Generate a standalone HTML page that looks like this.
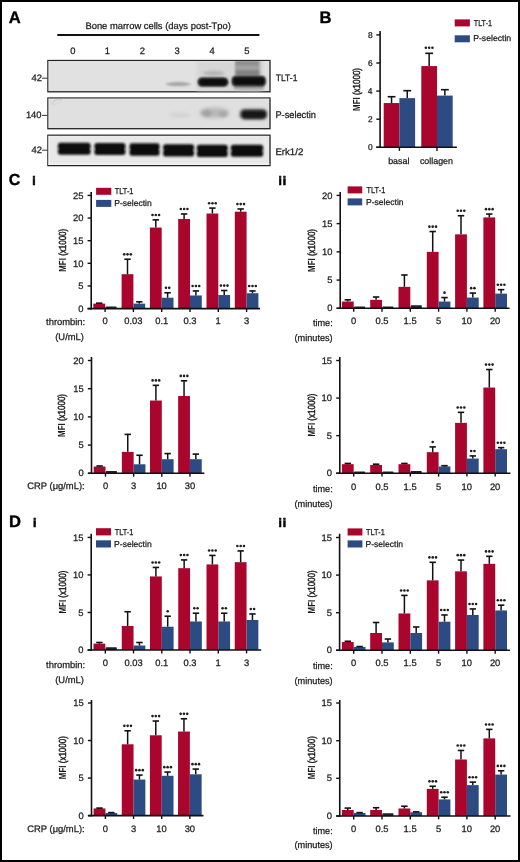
<!DOCTYPE html>
<html><head><meta charset="utf-8"><style>
html,body{margin:0;padding:0;background:#fff;}
svg{display:block;}
text{font-family:"Liberation Sans",sans-serif;}
svg{-webkit-font-smoothing:antialiased;will-change:transform;text-rendering:geometricPrecision;}
</style></head><body>
<svg width="520" height="862" viewBox="0 0 520 862" font-family="Liberation Sans, sans-serif">
<defs>
<filter id="b1" x="-30%" y="-60%" width="160%" height="220%"><feGaussianBlur stdDeviation="1.6"/></filter>
<filter id="b2" x="-30%" y="-60%" width="160%" height="220%"><feGaussianBlur stdDeviation="1.0"/></filter>
<filter id="b4" x="-30%" y="-60%" width="160%" height="220%"><feGaussianBlur stdDeviation="1.3"/></filter>
<filter id="b3" x="-30%" y="-60%" width="160%" height="220%"><feGaussianBlur stdDeviation="2.2"/></filter>
<clipPath id="k1"><rect x="48.3" y="61" width="221.2" height="30.6"/></clipPath>
<clipPath id="k2"><rect x="48.3" y="98.3" width="221.2" height="30.4"/></clipPath>
<clipPath id="k3"><rect x="48.3" y="135.4" width="221.2" height="30.3"/></clipPath>
</defs>
<rect x="0" y="0" width="520" height="862" fill="#fff"/>
<line x1="57.3" y1="35" x2="259.4" y2="35" stroke="#111" stroke-width="1.9"/>
<rect x="47.9" y="60.5" width="222.1" height="31.3" fill="#e1e1e1" stroke="#222" stroke-width="1.3"/>
<rect x="47.9" y="98.0" width="222.1" height="30.7" fill="#e0e0e0" stroke="#222" stroke-width="1.3"/>
<rect x="47.9" y="135.2" width="222.1" height="30.4" fill="#e8e8e8" stroke="#222" stroke-width="1.3"/>
<rect x="48.55" y="61.15" width="220.8" height="0.8" fill="#f0f0f0" opacity="0.8"/>
<rect x="48.55" y="61.15" width="0.8" height="30.00" fill="#f0f0f0" opacity="0.8"/>
<rect x="48.55" y="98.65" width="220.8" height="0.8" fill="#f0f0f0" opacity="0.8"/>
<rect x="48.55" y="98.65" width="0.8" height="29.40" fill="#f0f0f0" opacity="0.8"/>
<rect x="48.55" y="135.85" width="220.8" height="0.8" fill="#f0f0f0" opacity="0.8"/>
<rect x="48.55" y="135.85" width="0.8" height="29.10" fill="#f0f0f0" opacity="0.8"/>
<path d="M51.5,104.5 C52,100.5 57,99.2 62.5,100.2" fill="none" stroke="#c2c2c2" stroke-width="0.8"/>
<path d="M53,105.5 C56,103 59,103.5 61.5,101.5" fill="none" stroke="#cccccc" stroke-width="0.6"/>
<rect x="48.6" y="163.6" width="220.8" height="1.2" fill="#f6f6f6"/>
<rect x="48.6" y="135.9" width="0.9" height="29" fill="#f4f4f4"/>
<g clip-path="url(#k1)">
<rect x="197" y="61" width="42" height="31" fill="#d6d6d6" filter="url(#b3)"/>
<rect x="238" y="58" width="24" height="36" fill="#c8c8c8" filter="url(#b3)"/>
<ellipse cx="178.3" cy="84.1" rx="12.5" ry="2.0" fill="#a4a4a4" filter="url(#b2)"/>
<ellipse cx="213.5" cy="73.2" rx="11" ry="2.2" fill="#b0b0b0" filter="url(#b1)"/>
<rect x="235" y="60.5" width="24.5" height="16" fill="#a2a2a2" filter="url(#b4)"/>
<rect x="236" y="61.3" width="22.5" height="4" fill="#8e8e8e" filter="url(#b2)"/>
<rect x="236" y="70.3" width="23" height="5.2" fill="#808080" filter="url(#b2)"/>
<rect x="234" y="84.8" width="30" height="4.6" fill="#a2a2a2" filter="url(#b2)"/>
<rect x="197.6" y="77.4" width="30.6" height="9.2" rx="4.4" fill="#555" filter="url(#b4)"/>
<rect x="198.6" y="78.2" width="29" height="7.8" rx="3.9" fill="#0c0c0c" filter="url(#b2)"/>
<rect x="231.6" y="76.0" width="34.2" height="10.2" rx="4.0" fill="#555" filter="url(#b4)"/>
<rect x="232.6" y="76.8" width="32.4" height="8.6" rx="3.6" fill="#111" filter="url(#b2)"/>
</g>
<g clip-path="url(#k2)">
<ellipse cx="179.5" cy="115" rx="11" ry="3" fill="#d4d4d4" filter="url(#b1)"/>
<ellipse cx="214.3" cy="112.8" rx="15" ry="5.2" fill="#b8b8b8" filter="url(#b3)"/>
<ellipse cx="207" cy="113.2" rx="5" ry="3.4" fill="#a2a2a2" filter="url(#b1)"/>
<ellipse cx="223" cy="114" rx="4.5" ry="3" fill="#a8a8a8" filter="url(#b1)"/>
<rect x="239.5" y="108.8" width="28" height="11" rx="5" fill="#6a6a6a" filter="url(#b1)"/>
<rect x="241.5" y="110.4" width="24.5" height="8" rx="3.8" fill="#161616" filter="url(#b4)"/>
</g>
<g clip-path="url(#k3)">
<rect x="57.9" y="142.8" width="32.7" height="11.9" rx="2.5" fill="#0f0f0f" filter="url(#b2)"/>
<line x1="63.7" y1="148.8" x2="84.8" y2="148.8" stroke="#2a2a2a" stroke-width="0.6" filter="url(#b2)"/>
<rect x="57.2" y="148.2" width="1.6" height="1.2" fill="#e6e6e6" filter="url(#b2)"/>
<rect x="89.7" y="148.2" width="1.6" height="1.2" fill="#e6e6e6" filter="url(#b2)"/>
<rect x="94.4" y="143.0" width="31.0" height="12.0" rx="2.5" fill="#0f0f0f" filter="url(#b2)"/>
<line x1="100.2" y1="149.0" x2="119.6" y2="149.0" stroke="#2a2a2a" stroke-width="0.6" filter="url(#b2)"/>
<rect x="93.7" y="148.4" width="1.6" height="1.2" fill="#e6e6e6" filter="url(#b2)"/>
<rect x="124.5" y="148.4" width="1.6" height="1.2" fill="#e6e6e6" filter="url(#b2)"/>
<rect x="129.5" y="143.3" width="30.1" height="12.5" rx="2.5" fill="#0f0f0f" filter="url(#b2)"/>
<line x1="135.3" y1="149.6" x2="153.8" y2="149.6" stroke="#2a2a2a" stroke-width="0.6" filter="url(#b2)"/>
<rect x="128.8" y="149.0" width="1.6" height="1.2" fill="#e6e6e6" filter="url(#b2)"/>
<rect x="158.7" y="149.0" width="1.6" height="1.2" fill="#e6e6e6" filter="url(#b2)"/>
<rect x="163.1" y="144.2" width="31.0" height="12.2" rx="2.5" fill="#0f0f0f" filter="url(#b2)"/>
<line x1="168.9" y1="150.3" x2="188.3" y2="150.3" stroke="#2a2a2a" stroke-width="0.6" filter="url(#b2)"/>
<rect x="162.4" y="149.7" width="1.6" height="1.2" fill="#e6e6e6" filter="url(#b2)"/>
<rect x="193.2" y="149.7" width="1.6" height="1.2" fill="#e6e6e6" filter="url(#b2)"/>
<rect x="196.8" y="144.8" width="31.0" height="12.3" rx="2.5" fill="#0f0f0f" filter="url(#b2)"/>
<line x1="202.6" y1="150.9" x2="222.0" y2="150.9" stroke="#2a2a2a" stroke-width="0.6" filter="url(#b2)"/>
<rect x="196.1" y="150.3" width="1.6" height="1.2" fill="#e6e6e6" filter="url(#b2)"/>
<rect x="226.9" y="150.3" width="1.6" height="1.2" fill="#e6e6e6" filter="url(#b2)"/>
<rect x="230.8" y="144.8" width="32.4" height="12.0" rx="2.5" fill="#0f0f0f" filter="url(#b2)"/>
<line x1="236.6" y1="150.8" x2="257.4" y2="150.8" stroke="#2a2a2a" stroke-width="0.6" filter="url(#b2)"/>
<rect x="230.1" y="150.2" width="1.6" height="1.2" fill="#e6e6e6" filter="url(#b2)"/>
<rect x="262.3" y="150.2" width="1.6" height="1.2" fill="#e6e6e6" filter="url(#b2)"/>
</g>
<text x="70.19" y="53.50" font-size="9.4" fill="#1a1a1a" stroke="#1a1a1a" stroke-width="0.25" >0</text>
<text x="104.86" y="53.50" font-size="9.4" fill="#1a1a1a" stroke="#1a1a1a" stroke-width="0.25" >1</text>
<text x="139.79" y="53.50" font-size="9.4" fill="#1a1a1a" stroke="#1a1a1a" stroke-width="0.25" >2</text>
<text x="174.61" y="53.50" font-size="9.4" fill="#1a1a1a" stroke="#1a1a1a" stroke-width="0.25" >3</text>
<text x="209.42" y="53.50" font-size="9.4" fill="#1a1a1a" stroke="#1a1a1a" stroke-width="0.25" >4</text>
<text x="244.20" y="53.50" font-size="9.4" fill="#1a1a1a" stroke="#1a1a1a" stroke-width="0.25" >5</text>
<text x="85.43" y="29.10" font-size="9.4" fill="#1a1a1a" stroke="#1a1a1a" stroke-width="0.25" >Bone marrow cells (days post-Tpo)</text>
<text x="31.52" y="81.30" font-size="9.4" fill="#1a1a1a" stroke="#1a1a1a" stroke-width="0.25" >42</text>
<line x1="42.00" y1="78.20" x2="47.30" y2="78.20" stroke="#333" stroke-width="1.0"/>
<text x="25.88" y="118.30" font-size="9.4" fill="#1a1a1a" stroke="#1a1a1a" stroke-width="0.25" >140</text>
<line x1="42.00" y1="115.40" x2="47.30" y2="115.40" stroke="#333" stroke-width="1.0"/>
<text x="31.52" y="153.40" font-size="9.4" fill="#1a1a1a" stroke="#1a1a1a" stroke-width="0.25" >42</text>
<line x1="42.00" y1="150.20" x2="47.30" y2="150.20" stroke="#333" stroke-width="1.0"/>
<text x="275.72" y="80.70" font-size="9.4" fill="#1a1a1a" stroke="#1a1a1a" stroke-width="0.25" textLength="21.68" lengthAdjust="spacingAndGlyphs" >TLT-1</text>
<text x="275.44" y="118.10" font-size="9.7" fill="#1a1a1a" stroke="#1a1a1a" stroke-width="0.25" textLength="40.56" lengthAdjust="spacingAndGlyphs" >P-selectin</text>
<text x="275.41" y="155.40" font-size="9.6" fill="#1a1a1a" stroke="#1a1a1a" stroke-width="0.25" textLength="27.88" lengthAdjust="spacingAndGlyphs" >Erk1/2</text>
<line x1="91.20" y1="192.10" x2="91.20" y2="309.40" stroke="#111" stroke-width="1.6"/>
<line x1="87.60" y1="308.60" x2="91.20" y2="308.60" stroke="#111" stroke-width="1.4"/>
<text x="78.24" y="311.78" font-size="9.4" fill="#1a1a1a" stroke="#1a1a1a" stroke-width="0.25" >0</text>
<line x1="87.60" y1="285.96" x2="91.20" y2="285.96" stroke="#111" stroke-width="1.4"/>
<text x="78.27" y="289.09" font-size="9.4" fill="#1a1a1a" stroke="#1a1a1a" stroke-width="0.25" >5</text>
<line x1="87.60" y1="263.32" x2="91.20" y2="263.32" stroke="#111" stroke-width="1.4"/>
<text x="73.01" y="266.50" font-size="9.4" fill="#1a1a1a" stroke="#1a1a1a" stroke-width="0.25" >10</text>
<line x1="87.60" y1="240.68" x2="91.20" y2="240.68" stroke="#111" stroke-width="1.4"/>
<text x="73.04" y="243.81" font-size="9.4" fill="#1a1a1a" stroke="#1a1a1a" stroke-width="0.25" >15</text>
<line x1="87.60" y1="218.04" x2="91.20" y2="218.04" stroke="#111" stroke-width="1.4"/>
<text x="73.01" y="221.22" font-size="9.4" fill="#1a1a1a" stroke="#1a1a1a" stroke-width="0.25" >20</text>
<line x1="87.60" y1="195.40" x2="91.20" y2="195.40" stroke="#111" stroke-width="1.4"/>
<text x="73.04" y="198.58" font-size="9.4" fill="#1a1a1a" stroke="#1a1a1a" stroke-width="0.25" >25</text>
<rect x="93.30" y="303.62" width="11.80" height="4.98" fill="#a9052d" />
<line x1="99.20" y1="303.62" x2="99.20" y2="303.17" stroke="#111" stroke-width="1.5"/>
<line x1="96.00" y1="303.17" x2="102.40" y2="303.17" stroke="#111" stroke-width="1.6"/>
<rect x="105.40" y="306.42" width="11.20" height="2.18" fill="#1c1f2e" rx="0.8"/>
<line x1="105.10" y1="308.60" x2="105.10" y2="312.00" stroke="#111" stroke-width="1.4"/>
<text x="102.49" y="324.20" font-size="9.4" fill="#1a1a1a" stroke="#1a1a1a" stroke-width="0.25" >0</text>
<rect x="121.60" y="274.19" width="11.80" height="34.41" fill="#a9052d" />
<line x1="127.50" y1="274.19" x2="127.50" y2="259.24" stroke="#111" stroke-width="1.5"/>
<line x1="124.30" y1="259.24" x2="130.70" y2="259.24" stroke="#111" stroke-width="1.6"/>
<circle cx="124.20" cy="254.34" r="1.3" fill="#1e1e1e"/>
<circle cx="127.50" cy="254.34" r="1.3" fill="#1e1e1e"/>
<circle cx="130.80" cy="254.34" r="1.3" fill="#1e1e1e"/>
<rect x="133.40" y="303.62" width="11.80" height="4.98" fill="#2d4b83" />
<line x1="139.30" y1="303.62" x2="139.30" y2="301.81" stroke="#111" stroke-width="1.5"/>
<line x1="136.10" y1="301.81" x2="142.50" y2="301.81" stroke="#111" stroke-width="1.6"/>
<line x1="133.40" y1="308.60" x2="133.40" y2="312.00" stroke="#111" stroke-width="1.4"/>
<text x="124.28" y="324.20" font-size="9.4" fill="#1a1a1a" stroke="#1a1a1a" stroke-width="0.25" >0.03</text>
<rect x="149.90" y="227.55" width="11.80" height="81.05" fill="#a9052d" />
<line x1="155.80" y1="227.55" x2="155.80" y2="219.85" stroke="#111" stroke-width="1.5"/>
<line x1="152.60" y1="219.85" x2="159.00" y2="219.85" stroke="#111" stroke-width="1.6"/>
<circle cx="152.50" cy="214.95" r="1.3" fill="#1e1e1e"/>
<circle cx="155.80" cy="214.95" r="1.3" fill="#1e1e1e"/>
<circle cx="159.10" cy="214.95" r="1.3" fill="#1e1e1e"/>
<rect x="161.70" y="297.73" width="11.80" height="10.87" fill="#2d4b83" />
<line x1="167.60" y1="297.73" x2="167.60" y2="292.75" stroke="#111" stroke-width="1.5"/>
<line x1="164.40" y1="292.75" x2="170.80" y2="292.75" stroke="#111" stroke-width="1.6"/>
<circle cx="165.95" cy="287.85" r="1.3" fill="#1e1e1e"/>
<circle cx="169.25" cy="287.85" r="1.3" fill="#1e1e1e"/>
<line x1="161.70" y1="308.60" x2="161.70" y2="312.00" stroke="#111" stroke-width="1.4"/>
<text x="155.21" y="324.20" font-size="9.4" fill="#1a1a1a" stroke="#1a1a1a" stroke-width="0.25" >0.1</text>
<rect x="178.20" y="218.95" width="11.80" height="89.65" fill="#a9052d" />
<line x1="184.10" y1="218.95" x2="184.10" y2="213.96" stroke="#111" stroke-width="1.5"/>
<line x1="180.90" y1="213.96" x2="187.30" y2="213.96" stroke="#111" stroke-width="1.6"/>
<circle cx="180.80" cy="209.06" r="1.3" fill="#1e1e1e"/>
<circle cx="184.10" cy="209.06" r="1.3" fill="#1e1e1e"/>
<circle cx="187.40" cy="209.06" r="1.3" fill="#1e1e1e"/>
<rect x="190.00" y="295.47" width="11.80" height="13.13" fill="#2d4b83" />
<line x1="195.90" y1="295.47" x2="195.90" y2="290.94" stroke="#111" stroke-width="1.5"/>
<line x1="192.70" y1="290.94" x2="199.10" y2="290.94" stroke="#111" stroke-width="1.6"/>
<circle cx="192.60" cy="286.04" r="1.3" fill="#1e1e1e"/>
<circle cx="195.90" cy="286.04" r="1.3" fill="#1e1e1e"/>
<circle cx="199.20" cy="286.04" r="1.3" fill="#1e1e1e"/>
<line x1="190.00" y1="308.60" x2="190.00" y2="312.00" stroke="#111" stroke-width="1.4"/>
<text x="183.49" y="324.20" font-size="9.4" fill="#1a1a1a" stroke="#1a1a1a" stroke-width="0.25" >0.3</text>
<rect x="206.50" y="213.51" width="11.80" height="95.09" fill="#a9052d" />
<line x1="212.40" y1="213.51" x2="212.40" y2="208.08" stroke="#111" stroke-width="1.5"/>
<line x1="209.20" y1="208.08" x2="215.60" y2="208.08" stroke="#111" stroke-width="1.6"/>
<circle cx="209.10" cy="203.18" r="1.3" fill="#1e1e1e"/>
<circle cx="212.40" cy="203.18" r="1.3" fill="#1e1e1e"/>
<circle cx="215.70" cy="203.18" r="1.3" fill="#1e1e1e"/>
<rect x="218.30" y="295.02" width="11.80" height="13.58" fill="#2d4b83" />
<line x1="224.20" y1="295.02" x2="224.20" y2="290.49" stroke="#111" stroke-width="1.5"/>
<line x1="221.00" y1="290.49" x2="227.40" y2="290.49" stroke="#111" stroke-width="1.6"/>
<circle cx="220.90" cy="285.59" r="1.3" fill="#1e1e1e"/>
<circle cx="224.20" cy="285.59" r="1.3" fill="#1e1e1e"/>
<circle cx="227.50" cy="285.59" r="1.3" fill="#1e1e1e"/>
<line x1="218.30" y1="308.60" x2="218.30" y2="312.00" stroke="#111" stroke-width="1.4"/>
<text x="215.56" y="324.20" font-size="9.4" fill="#1a1a1a" stroke="#1a1a1a" stroke-width="0.25" >1</text>
<rect x="234.80" y="211.70" width="11.80" height="96.90" fill="#a9052d" />
<line x1="240.70" y1="211.70" x2="240.70" y2="208.98" stroke="#111" stroke-width="1.5"/>
<line x1="237.50" y1="208.98" x2="243.90" y2="208.98" stroke="#111" stroke-width="1.6"/>
<circle cx="237.40" cy="204.08" r="1.3" fill="#1e1e1e"/>
<circle cx="240.70" cy="204.08" r="1.3" fill="#1e1e1e"/>
<circle cx="244.00" cy="204.08" r="1.3" fill="#1e1e1e"/>
<rect x="246.60" y="293.20" width="11.80" height="15.40" fill="#2d4b83" />
<line x1="252.50" y1="293.20" x2="252.50" y2="290.94" stroke="#111" stroke-width="1.5"/>
<line x1="249.30" y1="290.94" x2="255.70" y2="290.94" stroke="#111" stroke-width="1.6"/>
<circle cx="249.20" cy="286.04" r="1.3" fill="#1e1e1e"/>
<circle cx="252.50" cy="286.04" r="1.3" fill="#1e1e1e"/>
<circle cx="255.80" cy="286.04" r="1.3" fill="#1e1e1e"/>
<line x1="246.60" y1="308.60" x2="246.60" y2="312.00" stroke="#111" stroke-width="1.4"/>
<text x="244.01" y="324.20" font-size="9.4" fill="#1a1a1a" stroke="#1a1a1a" stroke-width="0.25" >3</text>
<line x1="87.60" y1="308.60" x2="260.00" y2="308.60" stroke="#111" stroke-width="1.6"/>
<text x="46.07" y="324.70" font-size="9.4" fill="#1a1a1a" stroke="#1a1a1a" stroke-width="0.25" >thrombin:</text>
<text x="55.26" y="340.30" font-size="9.4" fill="#1a1a1a" stroke="#1a1a1a" stroke-width="0.25" >(U/mL)</text>
<g transform="translate(65.60,250.30) rotate(-90)"><text x="0" y="0" font-size="10.3" text-anchor="middle" fill="#1a1a1a" textLength="43" lengthAdjust="spacingAndGlyphs"><tspan font-weight="bold">MFI</tspan> <tspan stroke="#1a1a1a" stroke-width="0.45">(x1000)</tspan></text></g>
<rect x="96.10" y="187.80" width="15.20" height="7.00" fill="#a9052d" />
<rect x="96.10" y="199.90" width="15.20" height="7.00" fill="#2d4b83" />
<text x="114.74" y="193.90" font-size="8.6" fill="#1a1a1a" stroke="#1a1a1a" stroke-width="0.25" textLength="18.70" lengthAdjust="spacingAndGlyphs" >TLT-1</text>
<text x="114.20" y="205.50" font-size="8.6" fill="#1a1a1a" stroke="#1a1a1a" stroke-width="0.25" textLength="37.56" lengthAdjust="spacingAndGlyphs" >P-selectin</text>
<line x1="340.20" y1="192.00" x2="340.20" y2="309.10" stroke="#111" stroke-width="1.6"/>
<line x1="336.60" y1="308.30" x2="340.20" y2="308.30" stroke="#111" stroke-width="1.4"/>
<text x="327.24" y="311.48" font-size="9.4" fill="#1a1a1a" stroke="#1a1a1a" stroke-width="0.25" >0</text>
<line x1="336.60" y1="280.07" x2="340.20" y2="280.07" stroke="#111" stroke-width="1.4"/>
<text x="327.27" y="283.21" font-size="9.4" fill="#1a1a1a" stroke="#1a1a1a" stroke-width="0.25" >5</text>
<line x1="336.60" y1="251.85" x2="340.20" y2="251.85" stroke="#111" stroke-width="1.4"/>
<text x="322.01" y="255.03" font-size="9.4" fill="#1a1a1a" stroke="#1a1a1a" stroke-width="0.25" >10</text>
<line x1="336.60" y1="223.62" x2="340.20" y2="223.62" stroke="#111" stroke-width="1.4"/>
<text x="322.04" y="226.76" font-size="9.4" fill="#1a1a1a" stroke="#1a1a1a" stroke-width="0.25" >15</text>
<line x1="336.60" y1="195.40" x2="340.20" y2="195.40" stroke="#111" stroke-width="1.4"/>
<text x="322.01" y="198.58" font-size="9.4" fill="#1a1a1a" stroke="#1a1a1a" stroke-width="0.25" >20</text>
<rect x="341.90" y="301.53" width="11.80" height="6.77" fill="#a9052d" />
<line x1="347.80" y1="301.53" x2="347.80" y2="299.83" stroke="#111" stroke-width="1.5"/>
<line x1="344.60" y1="299.83" x2="351.00" y2="299.83" stroke="#111" stroke-width="1.6"/>
<rect x="354.00" y="306.57" width="11.20" height="1.73" fill="#1c1f2e" rx="0.8"/>
<line x1="353.70" y1="308.30" x2="353.70" y2="311.70" stroke="#111" stroke-width="1.4"/>
<text x="351.09" y="324.40" font-size="9.4" fill="#1a1a1a" stroke="#1a1a1a" stroke-width="0.25" >0</text>
<rect x="370.20" y="299.83" width="11.80" height="8.47" fill="#a9052d" />
<line x1="376.10" y1="299.83" x2="376.10" y2="297.01" stroke="#111" stroke-width="1.5"/>
<line x1="372.90" y1="297.01" x2="379.30" y2="297.01" stroke="#111" stroke-width="1.6"/>
<rect x="382.30" y="306.57" width="11.20" height="1.73" fill="#1c1f2e" rx="0.8"/>
<line x1="382.00" y1="308.30" x2="382.00" y2="311.70" stroke="#111" stroke-width="1.4"/>
<text x="375.48" y="324.40" font-size="9.4" fill="#1a1a1a" stroke="#1a1a1a" stroke-width="0.25" >0.5</text>
<rect x="398.50" y="286.85" width="11.80" height="21.45" fill="#a9052d" />
<line x1="404.40" y1="286.85" x2="404.40" y2="274.99" stroke="#111" stroke-width="1.5"/>
<line x1="401.20" y1="274.99" x2="407.60" y2="274.99" stroke="#111" stroke-width="1.6"/>
<rect x="410.60" y="305.16" width="11.20" height="3.14" fill="#1c1f2e" rx="0.8"/>
<line x1="410.30" y1="308.30" x2="410.30" y2="311.70" stroke="#111" stroke-width="1.4"/>
<text x="403.61" y="324.40" font-size="9.4" fill="#1a1a1a" stroke="#1a1a1a" stroke-width="0.25" >1.5</text>
<rect x="426.80" y="251.85" width="11.80" height="56.45" fill="#a9052d" />
<line x1="432.70" y1="251.85" x2="432.70" y2="231.53" stroke="#111" stroke-width="1.5"/>
<line x1="429.50" y1="231.53" x2="435.90" y2="231.53" stroke="#111" stroke-width="1.6"/>
<circle cx="429.40" cy="226.63" r="1.3" fill="#1e1e1e"/>
<circle cx="432.70" cy="226.63" r="1.3" fill="#1e1e1e"/>
<circle cx="436.00" cy="226.63" r="1.3" fill="#1e1e1e"/>
<rect x="438.60" y="301.53" width="11.80" height="6.77" fill="#2d4b83" />
<line x1="444.50" y1="301.53" x2="444.50" y2="297.57" stroke="#111" stroke-width="1.5"/>
<line x1="441.30" y1="297.57" x2="447.70" y2="297.57" stroke="#111" stroke-width="1.6"/>
<circle cx="444.50" cy="292.67" r="1.3" fill="#1e1e1e"/>
<line x1="438.60" y1="308.30" x2="438.60" y2="311.70" stroke="#111" stroke-width="1.4"/>
<text x="436.00" y="324.40" font-size="9.4" fill="#1a1a1a" stroke="#1a1a1a" stroke-width="0.25" >5</text>
<rect x="455.10" y="234.35" width="11.80" height="73.95" fill="#a9052d" />
<line x1="461.00" y1="234.35" x2="461.00" y2="215.72" stroke="#111" stroke-width="1.5"/>
<line x1="457.80" y1="215.72" x2="464.20" y2="215.72" stroke="#111" stroke-width="1.6"/>
<circle cx="457.70" cy="210.82" r="1.3" fill="#1e1e1e"/>
<circle cx="461.00" cy="210.82" r="1.3" fill="#1e1e1e"/>
<circle cx="464.30" cy="210.82" r="1.3" fill="#1e1e1e"/>
<rect x="466.90" y="297.57" width="11.80" height="10.73" fill="#2d4b83" />
<line x1="472.80" y1="297.57" x2="472.80" y2="293.06" stroke="#111" stroke-width="1.5"/>
<line x1="469.60" y1="293.06" x2="476.00" y2="293.06" stroke="#111" stroke-width="1.6"/>
<circle cx="471.15" cy="288.16" r="1.3" fill="#1e1e1e"/>
<circle cx="474.45" cy="288.16" r="1.3" fill="#1e1e1e"/>
<line x1="466.90" y1="308.30" x2="466.90" y2="311.70" stroke="#111" stroke-width="1.4"/>
<text x="461.50" y="324.40" font-size="9.4" fill="#1a1a1a" stroke="#1a1a1a" stroke-width="0.25" >10</text>
<rect x="483.40" y="217.42" width="11.80" height="90.88" fill="#a9052d" />
<line x1="489.30" y1="217.42" x2="489.30" y2="214.03" stroke="#111" stroke-width="1.5"/>
<line x1="486.10" y1="214.03" x2="492.50" y2="214.03" stroke="#111" stroke-width="1.6"/>
<circle cx="486.00" cy="209.13" r="1.3" fill="#1e1e1e"/>
<circle cx="489.30" cy="209.13" r="1.3" fill="#1e1e1e"/>
<circle cx="492.60" cy="209.13" r="1.3" fill="#1e1e1e"/>
<rect x="495.20" y="293.62" width="11.80" height="14.68" fill="#2d4b83" />
<line x1="501.10" y1="293.62" x2="501.10" y2="289.67" stroke="#111" stroke-width="1.5"/>
<line x1="497.90" y1="289.67" x2="504.30" y2="289.67" stroke="#111" stroke-width="1.6"/>
<circle cx="497.80" cy="284.77" r="1.3" fill="#1e1e1e"/>
<circle cx="501.10" cy="284.77" r="1.3" fill="#1e1e1e"/>
<circle cx="504.40" cy="284.77" r="1.3" fill="#1e1e1e"/>
<line x1="495.20" y1="308.30" x2="495.20" y2="311.70" stroke="#111" stroke-width="1.4"/>
<text x="489.92" y="324.40" font-size="9.4" fill="#1a1a1a" stroke="#1a1a1a" stroke-width="0.25" >20</text>
<line x1="336.60" y1="308.30" x2="509.60" y2="308.30" stroke="#111" stroke-width="1.6"/>
<text x="312.96" y="325.50" font-size="9.4" fill="#1a1a1a" stroke="#1a1a1a" stroke-width="0.25" textLength="19.77" lengthAdjust="spacingAndGlyphs" >time:</text>
<text x="294.53" y="340.70" font-size="9.4" fill="#1a1a1a" stroke="#1a1a1a" stroke-width="0.25" textLength="38.13" lengthAdjust="spacingAndGlyphs" >(minutes)</text>
<g transform="translate(314.80,250.50) rotate(-90)"><text x="0" y="0" font-size="10.3" text-anchor="middle" fill="#1a1a1a" textLength="43" lengthAdjust="spacingAndGlyphs"><tspan font-weight="bold">MFI</tspan> <tspan stroke="#1a1a1a" stroke-width="0.45">(x1000)</tspan></text></g>
<rect x="347.60" y="186.40" width="14.60" height="7.00" fill="#a9052d" />
<rect x="347.60" y="198.40" width="14.60" height="7.00" fill="#2d4b83" />
<text x="366.54" y="192.90" font-size="8.6" fill="#1a1a1a" stroke="#1a1a1a" stroke-width="0.25" textLength="18.70" lengthAdjust="spacingAndGlyphs" >TLT-1</text>
<text x="366.00" y="205.10" font-size="8.6" fill="#1a1a1a" stroke="#1a1a1a" stroke-width="0.25" textLength="37.56" lengthAdjust="spacingAndGlyphs" >P-selectin</text>
<line x1="91.50" y1="357.00" x2="91.50" y2="474.10" stroke="#111" stroke-width="1.6"/>
<line x1="87.90" y1="473.30" x2="91.50" y2="473.30" stroke="#111" stroke-width="1.4"/>
<text x="78.54" y="476.48" font-size="9.4" fill="#1a1a1a" stroke="#1a1a1a" stroke-width="0.25" >0</text>
<line x1="87.90" y1="445.10" x2="91.50" y2="445.10" stroke="#111" stroke-width="1.4"/>
<text x="78.57" y="448.23" font-size="9.4" fill="#1a1a1a" stroke="#1a1a1a" stroke-width="0.25" >5</text>
<line x1="87.90" y1="416.90" x2="91.50" y2="416.90" stroke="#111" stroke-width="1.4"/>
<text x="73.31" y="420.08" font-size="9.4" fill="#1a1a1a" stroke="#1a1a1a" stroke-width="0.25" >10</text>
<line x1="87.90" y1="388.70" x2="91.50" y2="388.70" stroke="#111" stroke-width="1.4"/>
<text x="73.34" y="391.83" font-size="9.4" fill="#1a1a1a" stroke="#1a1a1a" stroke-width="0.25" >15</text>
<line x1="87.90" y1="360.50" x2="91.50" y2="360.50" stroke="#111" stroke-width="1.4"/>
<text x="73.31" y="363.68" font-size="9.4" fill="#1a1a1a" stroke="#1a1a1a" stroke-width="0.25" >20</text>
<rect x="93.70" y="466.53" width="11.80" height="6.77" fill="#a9052d" />
<line x1="99.60" y1="466.53" x2="99.60" y2="465.97" stroke="#111" stroke-width="1.5"/>
<line x1="96.40" y1="465.97" x2="102.80" y2="465.97" stroke="#111" stroke-width="1.6"/>
<rect x="105.80" y="471.01" width="11.20" height="2.29" fill="#1c1f2e" rx="0.8"/>
<line x1="105.50" y1="473.30" x2="105.50" y2="476.70" stroke="#111" stroke-width="1.4"/>
<text x="102.89" y="489.40" font-size="9.4" fill="#1a1a1a" stroke="#1a1a1a" stroke-width="0.25" >0</text>
<rect x="121.85" y="451.87" width="11.80" height="21.43" fill="#a9052d" />
<line x1="127.75" y1="451.87" x2="127.75" y2="434.38" stroke="#111" stroke-width="1.5"/>
<line x1="124.55" y1="434.38" x2="130.95" y2="434.38" stroke="#111" stroke-width="1.6"/>
<rect x="133.65" y="464.28" width="11.80" height="9.02" fill="#2d4b83" />
<line x1="139.55" y1="464.28" x2="139.55" y2="455.25" stroke="#111" stroke-width="1.5"/>
<line x1="136.35" y1="455.25" x2="142.75" y2="455.25" stroke="#111" stroke-width="1.6"/>
<line x1="133.65" y1="473.30" x2="133.65" y2="476.70" stroke="#111" stroke-width="1.4"/>
<text x="131.06" y="489.40" font-size="9.4" fill="#1a1a1a" stroke="#1a1a1a" stroke-width="0.25" >3</text>
<rect x="150.00" y="400.54" width="11.80" height="72.76" fill="#a9052d" />
<line x1="155.90" y1="400.54" x2="155.90" y2="385.32" stroke="#111" stroke-width="1.5"/>
<line x1="152.70" y1="385.32" x2="159.10" y2="385.32" stroke="#111" stroke-width="1.6"/>
<circle cx="152.60" cy="380.42" r="1.3" fill="#1e1e1e"/>
<circle cx="155.90" cy="380.42" r="1.3" fill="#1e1e1e"/>
<circle cx="159.20" cy="380.42" r="1.3" fill="#1e1e1e"/>
<rect x="161.80" y="459.20" width="11.80" height="14.10" fill="#2d4b83" />
<line x1="167.70" y1="459.20" x2="167.70" y2="453.56" stroke="#111" stroke-width="1.5"/>
<line x1="164.50" y1="453.56" x2="170.90" y2="453.56" stroke="#111" stroke-width="1.6"/>
<line x1="161.80" y1="473.30" x2="161.80" y2="476.70" stroke="#111" stroke-width="1.4"/>
<text x="156.40" y="489.40" font-size="9.4" fill="#1a1a1a" stroke="#1a1a1a" stroke-width="0.25" >10</text>
<rect x="178.15" y="396.03" width="11.80" height="77.27" fill="#a9052d" />
<line x1="184.05" y1="396.03" x2="184.05" y2="380.80" stroke="#111" stroke-width="1.5"/>
<line x1="180.85" y1="380.80" x2="187.25" y2="380.80" stroke="#111" stroke-width="1.6"/>
<circle cx="180.75" cy="375.90" r="1.3" fill="#1e1e1e"/>
<circle cx="184.05" cy="375.90" r="1.3" fill="#1e1e1e"/>
<circle cx="187.35" cy="375.90" r="1.3" fill="#1e1e1e"/>
<rect x="189.95" y="459.20" width="11.80" height="14.10" fill="#2d4b83" />
<line x1="195.85" y1="459.20" x2="195.85" y2="454.12" stroke="#111" stroke-width="1.5"/>
<line x1="192.65" y1="454.12" x2="199.05" y2="454.12" stroke="#111" stroke-width="1.6"/>
<line x1="189.95" y1="473.30" x2="189.95" y2="476.70" stroke="#111" stroke-width="1.4"/>
<text x="184.73" y="489.40" font-size="9.4" fill="#1a1a1a" stroke="#1a1a1a" stroke-width="0.25" >30</text>
<line x1="87.90" y1="473.30" x2="204.40" y2="473.30" stroke="#111" stroke-width="1.6"/>
<text x="27.31" y="489.40" font-size="9.4" fill="#1a1a1a" stroke="#1a1a1a" stroke-width="0.25" >CRP (μg/mL):</text>
<g transform="translate(65.40,415.50) rotate(-90)"><text x="0" y="0" font-size="10.3" text-anchor="middle" fill="#1a1a1a" textLength="43" lengthAdjust="spacingAndGlyphs"><tspan font-weight="bold">MFI</tspan> <tspan stroke="#1a1a1a" stroke-width="0.45">(x1000)</tspan></text></g>
<line x1="339.80" y1="357.00" x2="339.80" y2="474.00" stroke="#111" stroke-width="1.6"/>
<line x1="336.20" y1="473.20" x2="339.80" y2="473.20" stroke="#111" stroke-width="1.4"/>
<text x="326.84" y="476.38" font-size="9.4" fill="#1a1a1a" stroke="#1a1a1a" stroke-width="0.25" >0</text>
<line x1="336.20" y1="435.63" x2="339.80" y2="435.63" stroke="#111" stroke-width="1.4"/>
<text x="326.87" y="438.77" font-size="9.4" fill="#1a1a1a" stroke="#1a1a1a" stroke-width="0.25" >5</text>
<line x1="336.20" y1="398.07" x2="339.80" y2="398.07" stroke="#111" stroke-width="1.4"/>
<text x="321.61" y="401.25" font-size="9.4" fill="#1a1a1a" stroke="#1a1a1a" stroke-width="0.25" >10</text>
<line x1="336.20" y1="360.50" x2="339.80" y2="360.50" stroke="#111" stroke-width="1.4"/>
<text x="321.64" y="363.63" font-size="9.4" fill="#1a1a1a" stroke="#1a1a1a" stroke-width="0.25" >15</text>
<rect x="341.90" y="464.18" width="11.80" height="9.02" fill="#a9052d" />
<line x1="347.80" y1="464.18" x2="347.80" y2="463.43" stroke="#111" stroke-width="1.5"/>
<line x1="344.60" y1="463.43" x2="351.00" y2="463.43" stroke="#111" stroke-width="1.6"/>
<rect x="354.00" y="471.47" width="11.20" height="1.73" fill="#1c1f2e" rx="0.8"/>
<line x1="353.70" y1="473.20" x2="353.70" y2="476.60" stroke="#111" stroke-width="1.4"/>
<text x="351.09" y="489.70" font-size="9.4" fill="#1a1a1a" stroke="#1a1a1a" stroke-width="0.25" >0</text>
<rect x="370.20" y="464.94" width="11.80" height="8.26" fill="#a9052d" />
<line x1="376.10" y1="464.94" x2="376.10" y2="464.18" stroke="#111" stroke-width="1.5"/>
<line x1="372.90" y1="464.18" x2="379.30" y2="464.18" stroke="#111" stroke-width="1.6"/>
<rect x="382.30" y="471.47" width="11.20" height="1.73" fill="#1c1f2e" rx="0.8"/>
<line x1="382.00" y1="473.20" x2="382.00" y2="476.60" stroke="#111" stroke-width="1.4"/>
<text x="375.48" y="489.70" font-size="9.4" fill="#1a1a1a" stroke="#1a1a1a" stroke-width="0.25" >0.5</text>
<rect x="398.50" y="464.18" width="11.80" height="9.02" fill="#a9052d" />
<line x1="404.40" y1="464.18" x2="404.40" y2="463.43" stroke="#111" stroke-width="1.5"/>
<line x1="401.20" y1="463.43" x2="407.60" y2="463.43" stroke="#111" stroke-width="1.6"/>
<rect x="410.60" y="471.10" width="11.20" height="2.10" fill="#1c1f2e" rx="0.8"/>
<line x1="410.30" y1="473.20" x2="410.30" y2="476.60" stroke="#111" stroke-width="1.4"/>
<text x="403.61" y="489.70" font-size="9.4" fill="#1a1a1a" stroke="#1a1a1a" stroke-width="0.25" >1.5</text>
<rect x="426.80" y="452.16" width="11.80" height="21.04" fill="#a9052d" />
<line x1="432.70" y1="452.16" x2="432.70" y2="446.90" stroke="#111" stroke-width="1.5"/>
<line x1="429.50" y1="446.90" x2="435.90" y2="446.90" stroke="#111" stroke-width="1.6"/>
<circle cx="432.70" cy="442.00" r="1.3" fill="#1e1e1e"/>
<rect x="438.60" y="466.44" width="11.80" height="6.76" fill="#2d4b83" />
<line x1="444.50" y1="466.44" x2="444.50" y2="465.69" stroke="#111" stroke-width="1.5"/>
<line x1="441.30" y1="465.69" x2="447.70" y2="465.69" stroke="#111" stroke-width="1.6"/>
<line x1="438.60" y1="473.20" x2="438.60" y2="476.60" stroke="#111" stroke-width="1.4"/>
<text x="436.00" y="489.70" font-size="9.4" fill="#1a1a1a" stroke="#1a1a1a" stroke-width="0.25" >5</text>
<rect x="455.10" y="422.86" width="11.80" height="50.34" fill="#a9052d" />
<line x1="461.00" y1="422.86" x2="461.00" y2="412.34" stroke="#111" stroke-width="1.5"/>
<line x1="457.80" y1="412.34" x2="464.20" y2="412.34" stroke="#111" stroke-width="1.6"/>
<circle cx="457.70" cy="407.44" r="1.3" fill="#1e1e1e"/>
<circle cx="461.00" cy="407.44" r="1.3" fill="#1e1e1e"/>
<circle cx="464.30" cy="407.44" r="1.3" fill="#1e1e1e"/>
<rect x="466.90" y="458.55" width="11.80" height="14.65" fill="#2d4b83" />
<line x1="472.80" y1="458.55" x2="472.80" y2="455.92" stroke="#111" stroke-width="1.5"/>
<line x1="469.60" y1="455.92" x2="476.00" y2="455.92" stroke="#111" stroke-width="1.6"/>
<circle cx="471.15" cy="451.02" r="1.3" fill="#1e1e1e"/>
<circle cx="474.45" cy="451.02" r="1.3" fill="#1e1e1e"/>
<line x1="466.90" y1="473.20" x2="466.90" y2="476.60" stroke="#111" stroke-width="1.4"/>
<text x="461.50" y="489.70" font-size="9.4" fill="#1a1a1a" stroke="#1a1a1a" stroke-width="0.25" >10</text>
<rect x="483.40" y="387.55" width="11.80" height="85.65" fill="#a9052d" />
<line x1="489.30" y1="387.55" x2="489.30" y2="369.52" stroke="#111" stroke-width="1.5"/>
<line x1="486.10" y1="369.52" x2="492.50" y2="369.52" stroke="#111" stroke-width="1.6"/>
<circle cx="486.00" cy="364.62" r="1.3" fill="#1e1e1e"/>
<circle cx="489.30" cy="364.62" r="1.3" fill="#1e1e1e"/>
<circle cx="492.60" cy="364.62" r="1.3" fill="#1e1e1e"/>
<rect x="495.20" y="449.16" width="11.80" height="24.04" fill="#2d4b83" />
<line x1="501.10" y1="449.16" x2="501.10" y2="447.65" stroke="#111" stroke-width="1.5"/>
<line x1="497.90" y1="447.65" x2="504.30" y2="447.65" stroke="#111" stroke-width="1.6"/>
<circle cx="497.80" cy="442.75" r="1.3" fill="#1e1e1e"/>
<circle cx="501.10" cy="442.75" r="1.3" fill="#1e1e1e"/>
<circle cx="504.40" cy="442.75" r="1.3" fill="#1e1e1e"/>
<line x1="495.20" y1="473.20" x2="495.20" y2="476.60" stroke="#111" stroke-width="1.4"/>
<text x="489.92" y="489.70" font-size="9.4" fill="#1a1a1a" stroke="#1a1a1a" stroke-width="0.25" >20</text>
<line x1="336.20" y1="473.20" x2="510.50" y2="473.20" stroke="#111" stroke-width="1.6"/>
<text x="312.96" y="491.80" font-size="9.4" fill="#1a1a1a" stroke="#1a1a1a" stroke-width="0.25" textLength="19.77" lengthAdjust="spacingAndGlyphs" >time:</text>
<text x="294.53" y="506.60" font-size="9.4" fill="#1a1a1a" stroke="#1a1a1a" stroke-width="0.25" textLength="38.13" lengthAdjust="spacingAndGlyphs" >(minutes)</text>
<g transform="translate(314.70,415.10) rotate(-90)"><text x="0" y="0" font-size="10.3" text-anchor="middle" fill="#1a1a1a" textLength="43" lengthAdjust="spacingAndGlyphs"><tspan font-weight="bold">MFI</tspan> <tspan stroke="#1a1a1a" stroke-width="0.45">(x1000)</tspan></text></g>
<line x1="91.20" y1="533.70" x2="91.20" y2="650.80" stroke="#111" stroke-width="1.6"/>
<line x1="87.60" y1="650.00" x2="91.20" y2="650.00" stroke="#111" stroke-width="1.4"/>
<text x="78.24" y="653.18" font-size="9.4" fill="#1a1a1a" stroke="#1a1a1a" stroke-width="0.25" >0</text>
<line x1="87.60" y1="612.47" x2="91.20" y2="612.47" stroke="#111" stroke-width="1.4"/>
<text x="78.27" y="615.60" font-size="9.4" fill="#1a1a1a" stroke="#1a1a1a" stroke-width="0.25" >5</text>
<line x1="87.60" y1="574.93" x2="91.20" y2="574.93" stroke="#111" stroke-width="1.4"/>
<text x="73.01" y="578.12" font-size="9.4" fill="#1a1a1a" stroke="#1a1a1a" stroke-width="0.25" >10</text>
<line x1="87.60" y1="537.40" x2="91.20" y2="537.40" stroke="#111" stroke-width="1.4"/>
<text x="73.04" y="540.53" font-size="9.4" fill="#1a1a1a" stroke="#1a1a1a" stroke-width="0.25" >15</text>
<rect x="93.50" y="643.62" width="11.80" height="6.38" fill="#a9052d" />
<line x1="99.40" y1="643.62" x2="99.40" y2="642.49" stroke="#111" stroke-width="1.5"/>
<line x1="96.20" y1="642.49" x2="102.60" y2="642.49" stroke="#111" stroke-width="1.6"/>
<rect x="105.60" y="647.15" width="11.20" height="2.85" fill="#1c1f2e" rx="0.8"/>
<line x1="105.30" y1="650.00" x2="105.30" y2="653.40" stroke="#111" stroke-width="1.4"/>
<text x="102.69" y="665.50" font-size="9.4" fill="#1a1a1a" stroke="#1a1a1a" stroke-width="0.25" >0</text>
<rect x="121.75" y="625.98" width="11.80" height="24.02" fill="#a9052d" />
<line x1="127.65" y1="625.98" x2="127.65" y2="611.72" stroke="#111" stroke-width="1.5"/>
<line x1="124.45" y1="611.72" x2="130.85" y2="611.72" stroke="#111" stroke-width="1.6"/>
<rect x="133.55" y="645.50" width="11.80" height="4.50" fill="#2d4b83" />
<line x1="139.45" y1="645.50" x2="139.45" y2="642.49" stroke="#111" stroke-width="1.5"/>
<line x1="136.25" y1="642.49" x2="142.65" y2="642.49" stroke="#111" stroke-width="1.6"/>
<line x1="133.55" y1="650.00" x2="133.55" y2="653.40" stroke="#111" stroke-width="1.4"/>
<text x="124.43" y="665.50" font-size="9.4" fill="#1a1a1a" stroke="#1a1a1a" stroke-width="0.25" >0.03</text>
<rect x="150.00" y="576.43" width="11.80" height="73.57" fill="#a9052d" />
<line x1="155.90" y1="576.43" x2="155.90" y2="567.43" stroke="#111" stroke-width="1.5"/>
<line x1="152.70" y1="567.43" x2="159.10" y2="567.43" stroke="#111" stroke-width="1.6"/>
<circle cx="152.60" cy="562.53" r="1.3" fill="#1e1e1e"/>
<circle cx="155.90" cy="562.53" r="1.3" fill="#1e1e1e"/>
<circle cx="159.20" cy="562.53" r="1.3" fill="#1e1e1e"/>
<rect x="161.80" y="626.73" width="11.80" height="23.27" fill="#2d4b83" />
<line x1="167.70" y1="626.73" x2="167.70" y2="616.22" stroke="#111" stroke-width="1.5"/>
<line x1="164.50" y1="616.22" x2="170.90" y2="616.22" stroke="#111" stroke-width="1.6"/>
<circle cx="167.70" cy="611.32" r="1.3" fill="#1e1e1e"/>
<line x1="161.80" y1="650.00" x2="161.80" y2="653.40" stroke="#111" stroke-width="1.4"/>
<text x="155.31" y="665.50" font-size="9.4" fill="#1a1a1a" stroke="#1a1a1a" stroke-width="0.25" >0.1</text>
<rect x="178.25" y="568.18" width="11.80" height="81.82" fill="#a9052d" />
<line x1="184.15" y1="568.18" x2="184.15" y2="559.92" stroke="#111" stroke-width="1.5"/>
<line x1="180.95" y1="559.92" x2="187.35" y2="559.92" stroke="#111" stroke-width="1.6"/>
<circle cx="180.85" cy="555.02" r="1.3" fill="#1e1e1e"/>
<circle cx="184.15" cy="555.02" r="1.3" fill="#1e1e1e"/>
<circle cx="187.45" cy="555.02" r="1.3" fill="#1e1e1e"/>
<rect x="190.05" y="621.47" width="11.80" height="28.53" fill="#2d4b83" />
<line x1="195.95" y1="621.47" x2="195.95" y2="613.22" stroke="#111" stroke-width="1.5"/>
<line x1="192.75" y1="613.22" x2="199.15" y2="613.22" stroke="#111" stroke-width="1.6"/>
<circle cx="194.30" cy="608.32" r="1.3" fill="#1e1e1e"/>
<circle cx="197.60" cy="608.32" r="1.3" fill="#1e1e1e"/>
<line x1="190.05" y1="650.00" x2="190.05" y2="653.40" stroke="#111" stroke-width="1.4"/>
<text x="183.54" y="665.50" font-size="9.4" fill="#1a1a1a" stroke="#1a1a1a" stroke-width="0.25" >0.3</text>
<rect x="206.50" y="564.42" width="11.80" height="85.58" fill="#a9052d" />
<line x1="212.40" y1="564.42" x2="212.40" y2="555.42" stroke="#111" stroke-width="1.5"/>
<line x1="209.20" y1="555.42" x2="215.60" y2="555.42" stroke="#111" stroke-width="1.6"/>
<circle cx="209.10" cy="550.52" r="1.3" fill="#1e1e1e"/>
<circle cx="212.40" cy="550.52" r="1.3" fill="#1e1e1e"/>
<circle cx="215.70" cy="550.52" r="1.3" fill="#1e1e1e"/>
<rect x="218.30" y="621.47" width="11.80" height="28.53" fill="#2d4b83" />
<line x1="224.20" y1="621.47" x2="224.20" y2="613.22" stroke="#111" stroke-width="1.5"/>
<line x1="221.00" y1="613.22" x2="227.40" y2="613.22" stroke="#111" stroke-width="1.6"/>
<circle cx="222.55" cy="608.32" r="1.3" fill="#1e1e1e"/>
<circle cx="225.85" cy="608.32" r="1.3" fill="#1e1e1e"/>
<line x1="218.30" y1="650.00" x2="218.30" y2="653.40" stroke="#111" stroke-width="1.4"/>
<text x="215.56" y="665.50" font-size="9.4" fill="#1a1a1a" stroke="#1a1a1a" stroke-width="0.25" >1</text>
<rect x="234.75" y="562.17" width="11.80" height="87.83" fill="#a9052d" />
<line x1="240.65" y1="562.17" x2="240.65" y2="550.91" stroke="#111" stroke-width="1.5"/>
<line x1="237.45" y1="550.91" x2="243.85" y2="550.91" stroke="#111" stroke-width="1.6"/>
<circle cx="237.35" cy="546.01" r="1.3" fill="#1e1e1e"/>
<circle cx="240.65" cy="546.01" r="1.3" fill="#1e1e1e"/>
<circle cx="243.95" cy="546.01" r="1.3" fill="#1e1e1e"/>
<rect x="246.55" y="619.97" width="11.80" height="30.03" fill="#2d4b83" />
<line x1="252.45" y1="619.97" x2="252.45" y2="613.97" stroke="#111" stroke-width="1.5"/>
<line x1="249.25" y1="613.97" x2="255.65" y2="613.97" stroke="#111" stroke-width="1.6"/>
<circle cx="250.80" cy="609.07" r="1.3" fill="#1e1e1e"/>
<circle cx="254.10" cy="609.07" r="1.3" fill="#1e1e1e"/>
<line x1="246.55" y1="650.00" x2="246.55" y2="653.40" stroke="#111" stroke-width="1.4"/>
<text x="243.96" y="665.50" font-size="9.4" fill="#1a1a1a" stroke="#1a1a1a" stroke-width="0.25" >3</text>
<line x1="87.60" y1="650.00" x2="261.20" y2="650.00" stroke="#111" stroke-width="1.6"/>
<text x="46.07" y="668.40" font-size="9.4" fill="#1a1a1a" stroke="#1a1a1a" stroke-width="0.25" >thrombin:</text>
<text x="55.26" y="683.30" font-size="9.4" fill="#1a1a1a" stroke="#1a1a1a" stroke-width="0.25" >(U/mL)</text>
<g transform="translate(66.00,592.10) rotate(-90)"><text x="0" y="0" font-size="10.3" text-anchor="middle" fill="#1a1a1a" textLength="43" lengthAdjust="spacingAndGlyphs"><tspan font-weight="bold">MFI</tspan> <tspan stroke="#1a1a1a" stroke-width="0.45">(x1000)</tspan></text></g>
<rect x="96.00" y="528.20" width="15.00" height="7.20" fill="#a9052d" />
<rect x="96.00" y="540.30" width="15.00" height="7.20" fill="#2d4b83" />
<text x="114.64" y="535.10" font-size="8.6" fill="#1a1a1a" stroke="#1a1a1a" stroke-width="0.25" textLength="18.70" lengthAdjust="spacingAndGlyphs" >TLT-1</text>
<text x="114.10" y="547.10" font-size="8.6" fill="#1a1a1a" stroke="#1a1a1a" stroke-width="0.25" textLength="37.56" lengthAdjust="spacingAndGlyphs" >P-selectin</text>
<line x1="339.60" y1="533.75" x2="339.60" y2="651.10" stroke="#111" stroke-width="1.6"/>
<line x1="336.00" y1="650.30" x2="339.60" y2="650.30" stroke="#111" stroke-width="1.4"/>
<text x="326.64" y="653.48" font-size="9.4" fill="#1a1a1a" stroke="#1a1a1a" stroke-width="0.25" >0</text>
<line x1="336.00" y1="612.70" x2="339.60" y2="612.70" stroke="#111" stroke-width="1.4"/>
<text x="326.67" y="615.83" font-size="9.4" fill="#1a1a1a" stroke="#1a1a1a" stroke-width="0.25" >5</text>
<line x1="336.00" y1="575.10" x2="339.60" y2="575.10" stroke="#111" stroke-width="1.4"/>
<text x="321.41" y="578.28" font-size="9.4" fill="#1a1a1a" stroke="#1a1a1a" stroke-width="0.25" >10</text>
<line x1="336.00" y1="537.50" x2="339.60" y2="537.50" stroke="#111" stroke-width="1.4"/>
<text x="321.44" y="540.63" font-size="9.4" fill="#1a1a1a" stroke="#1a1a1a" stroke-width="0.25" >15</text>
<rect x="341.90" y="642.03" width="11.80" height="8.27" fill="#a9052d" />
<line x1="347.80" y1="642.03" x2="347.80" y2="641.28" stroke="#111" stroke-width="1.5"/>
<line x1="344.60" y1="641.28" x2="351.00" y2="641.28" stroke="#111" stroke-width="1.6"/>
<rect x="353.70" y="646.92" width="11.80" height="3.38" fill="#2d4b83" />
<line x1="359.60" y1="646.92" x2="359.60" y2="646.54" stroke="#111" stroke-width="1.5"/>
<line x1="356.40" y1="646.54" x2="362.80" y2="646.54" stroke="#111" stroke-width="1.6"/>
<line x1="353.70" y1="650.30" x2="353.70" y2="653.70" stroke="#111" stroke-width="1.4"/>
<text x="351.09" y="665.50" font-size="9.4" fill="#1a1a1a" stroke="#1a1a1a" stroke-width="0.25" >0</text>
<rect x="370.20" y="633.00" width="11.80" height="17.30" fill="#a9052d" />
<line x1="376.10" y1="633.00" x2="376.10" y2="622.48" stroke="#111" stroke-width="1.5"/>
<line x1="372.90" y1="622.48" x2="379.30" y2="622.48" stroke="#111" stroke-width="1.6"/>
<rect x="382.00" y="642.40" width="11.80" height="7.90" fill="#2d4b83" />
<line x1="387.90" y1="642.40" x2="387.90" y2="639.02" stroke="#111" stroke-width="1.5"/>
<line x1="384.70" y1="639.02" x2="391.10" y2="639.02" stroke="#111" stroke-width="1.6"/>
<line x1="382.00" y1="650.30" x2="382.00" y2="653.70" stroke="#111" stroke-width="1.4"/>
<text x="375.48" y="665.50" font-size="9.4" fill="#1a1a1a" stroke="#1a1a1a" stroke-width="0.25" >0.5</text>
<rect x="398.50" y="613.45" width="11.80" height="36.85" fill="#a9052d" />
<line x1="404.40" y1="613.45" x2="404.40" y2="595.40" stroke="#111" stroke-width="1.5"/>
<line x1="401.20" y1="595.40" x2="407.60" y2="595.40" stroke="#111" stroke-width="1.6"/>
<circle cx="401.10" cy="590.50" r="1.3" fill="#1e1e1e"/>
<circle cx="404.40" cy="590.50" r="1.3" fill="#1e1e1e"/>
<circle cx="407.70" cy="590.50" r="1.3" fill="#1e1e1e"/>
<rect x="410.30" y="633.00" width="11.80" height="17.30" fill="#2d4b83" />
<line x1="416.20" y1="633.00" x2="416.20" y2="626.99" stroke="#111" stroke-width="1.5"/>
<line x1="413.00" y1="626.99" x2="419.40" y2="626.99" stroke="#111" stroke-width="1.6"/>
<line x1="410.30" y1="650.30" x2="410.30" y2="653.70" stroke="#111" stroke-width="1.4"/>
<text x="403.61" y="665.50" font-size="9.4" fill="#1a1a1a" stroke="#1a1a1a" stroke-width="0.25" >1.5</text>
<rect x="426.80" y="580.36" width="11.80" height="69.94" fill="#a9052d" />
<line x1="432.70" y1="580.36" x2="432.70" y2="562.32" stroke="#111" stroke-width="1.5"/>
<line x1="429.50" y1="562.32" x2="435.90" y2="562.32" stroke="#111" stroke-width="1.6"/>
<circle cx="429.40" cy="557.42" r="1.3" fill="#1e1e1e"/>
<circle cx="432.70" cy="557.42" r="1.3" fill="#1e1e1e"/>
<circle cx="436.00" cy="557.42" r="1.3" fill="#1e1e1e"/>
<rect x="438.60" y="621.72" width="11.80" height="28.58" fill="#2d4b83" />
<line x1="444.50" y1="621.72" x2="444.50" y2="614.96" stroke="#111" stroke-width="1.5"/>
<line x1="441.30" y1="614.96" x2="447.70" y2="614.96" stroke="#111" stroke-width="1.6"/>
<circle cx="441.20" cy="610.06" r="1.3" fill="#1e1e1e"/>
<circle cx="444.50" cy="610.06" r="1.3" fill="#1e1e1e"/>
<circle cx="447.80" cy="610.06" r="1.3" fill="#1e1e1e"/>
<line x1="438.60" y1="650.30" x2="438.60" y2="653.70" stroke="#111" stroke-width="1.4"/>
<text x="436.00" y="665.50" font-size="9.4" fill="#1a1a1a" stroke="#1a1a1a" stroke-width="0.25" >5</text>
<rect x="455.10" y="571.34" width="11.80" height="78.96" fill="#a9052d" />
<line x1="461.00" y1="571.34" x2="461.00" y2="560.06" stroke="#111" stroke-width="1.5"/>
<line x1="457.80" y1="560.06" x2="464.20" y2="560.06" stroke="#111" stroke-width="1.6"/>
<circle cx="457.70" cy="555.16" r="1.3" fill="#1e1e1e"/>
<circle cx="461.00" cy="555.16" r="1.3" fill="#1e1e1e"/>
<circle cx="464.30" cy="555.16" r="1.3" fill="#1e1e1e"/>
<rect x="466.90" y="614.96" width="11.80" height="35.34" fill="#2d4b83" />
<line x1="472.80" y1="614.96" x2="472.80" y2="608.94" stroke="#111" stroke-width="1.5"/>
<line x1="469.60" y1="608.94" x2="476.00" y2="608.94" stroke="#111" stroke-width="1.6"/>
<circle cx="469.50" cy="604.04" r="1.3" fill="#1e1e1e"/>
<circle cx="472.80" cy="604.04" r="1.3" fill="#1e1e1e"/>
<circle cx="476.10" cy="604.04" r="1.3" fill="#1e1e1e"/>
<line x1="466.90" y1="650.30" x2="466.90" y2="653.70" stroke="#111" stroke-width="1.4"/>
<text x="461.50" y="665.50" font-size="9.4" fill="#1a1a1a" stroke="#1a1a1a" stroke-width="0.25" >10</text>
<rect x="483.40" y="563.82" width="11.80" height="86.48" fill="#a9052d" />
<line x1="489.30" y1="563.82" x2="489.30" y2="556.30" stroke="#111" stroke-width="1.5"/>
<line x1="486.10" y1="556.30" x2="492.50" y2="556.30" stroke="#111" stroke-width="1.6"/>
<circle cx="486.00" cy="551.40" r="1.3" fill="#1e1e1e"/>
<circle cx="489.30" cy="551.40" r="1.3" fill="#1e1e1e"/>
<circle cx="492.60" cy="551.40" r="1.3" fill="#1e1e1e"/>
<rect x="495.20" y="610.44" width="11.80" height="39.86" fill="#2d4b83" />
<line x1="501.10" y1="610.44" x2="501.10" y2="605.18" stroke="#111" stroke-width="1.5"/>
<line x1="497.90" y1="605.18" x2="504.30" y2="605.18" stroke="#111" stroke-width="1.6"/>
<circle cx="497.80" cy="600.28" r="1.3" fill="#1e1e1e"/>
<circle cx="501.10" cy="600.28" r="1.3" fill="#1e1e1e"/>
<circle cx="504.40" cy="600.28" r="1.3" fill="#1e1e1e"/>
<line x1="495.20" y1="650.30" x2="495.20" y2="653.70" stroke="#111" stroke-width="1.4"/>
<text x="489.92" y="665.50" font-size="9.4" fill="#1a1a1a" stroke="#1a1a1a" stroke-width="0.25" >20</text>
<line x1="336.00" y1="650.30" x2="509.90" y2="650.30" stroke="#111" stroke-width="1.6"/>
<text x="312.96" y="668.90" font-size="9.4" fill="#1a1a1a" stroke="#1a1a1a" stroke-width="0.25" textLength="19.77" lengthAdjust="spacingAndGlyphs" >time:</text>
<text x="294.53" y="683.70" font-size="9.4" fill="#1a1a1a" stroke="#1a1a1a" stroke-width="0.25" textLength="38.13" lengthAdjust="spacingAndGlyphs" >(minutes)</text>
<g transform="translate(314.80,591.90) rotate(-90)"><text x="0" y="0" font-size="10.3" text-anchor="middle" fill="#1a1a1a" textLength="43" lengthAdjust="spacingAndGlyphs"><tspan font-weight="bold">MFI</tspan> <tspan stroke="#1a1a1a" stroke-width="0.45">(x1000)</tspan></text></g>
<rect x="347.60" y="528.40" width="14.80" height="7.10" fill="#a9052d" />
<rect x="347.60" y="540.40" width="14.80" height="7.10" fill="#2d4b83" />
<text x="366.04" y="535.10" font-size="8.6" fill="#1a1a1a" stroke="#1a1a1a" stroke-width="0.25" textLength="18.70" lengthAdjust="spacingAndGlyphs" >TLT-1</text>
<text x="365.50" y="547.10" font-size="8.6" fill="#1a1a1a" stroke="#1a1a1a" stroke-width="0.25" textLength="37.56" lengthAdjust="spacingAndGlyphs" >P-selectin</text>
<line x1="91.50" y1="700.00" x2="91.50" y2="816.40" stroke="#111" stroke-width="1.6"/>
<line x1="87.90" y1="815.60" x2="91.50" y2="815.60" stroke="#111" stroke-width="1.4"/>
<text x="78.54" y="818.78" font-size="9.4" fill="#1a1a1a" stroke="#1a1a1a" stroke-width="0.25" >0</text>
<line x1="87.90" y1="778.07" x2="91.50" y2="778.07" stroke="#111" stroke-width="1.4"/>
<text x="78.57" y="781.20" font-size="9.4" fill="#1a1a1a" stroke="#1a1a1a" stroke-width="0.25" >5</text>
<line x1="87.90" y1="740.53" x2="91.50" y2="740.53" stroke="#111" stroke-width="1.4"/>
<text x="73.31" y="743.72" font-size="9.4" fill="#1a1a1a" stroke="#1a1a1a" stroke-width="0.25" >10</text>
<line x1="87.90" y1="703.00" x2="91.50" y2="703.00" stroke="#111" stroke-width="1.4"/>
<text x="73.34" y="706.13" font-size="9.4" fill="#1a1a1a" stroke="#1a1a1a" stroke-width="0.25" >15</text>
<rect x="93.60" y="808.47" width="11.80" height="7.13" fill="#a9052d" />
<line x1="99.50" y1="808.47" x2="99.50" y2="808.09" stroke="#111" stroke-width="1.5"/>
<line x1="96.30" y1="808.09" x2="102.70" y2="808.09" stroke="#111" stroke-width="1.6"/>
<rect x="105.40" y="812.97" width="11.80" height="2.63" fill="#2d4b83" />
<line x1="111.30" y1="812.97" x2="111.30" y2="812.60" stroke="#111" stroke-width="1.5"/>
<line x1="108.10" y1="812.60" x2="114.50" y2="812.60" stroke="#111" stroke-width="1.6"/>
<line x1="105.40" y1="815.60" x2="105.40" y2="819.00" stroke="#111" stroke-width="1.4"/>
<text x="102.79" y="831.60" font-size="9.4" fill="#1a1a1a" stroke="#1a1a1a" stroke-width="0.25" >0</text>
<rect x="121.75" y="744.29" width="11.80" height="71.31" fill="#a9052d" />
<line x1="127.65" y1="744.29" x2="127.65" y2="730.77" stroke="#111" stroke-width="1.5"/>
<line x1="124.45" y1="730.77" x2="130.85" y2="730.77" stroke="#111" stroke-width="1.6"/>
<circle cx="124.35" cy="725.87" r="1.3" fill="#1e1e1e"/>
<circle cx="127.65" cy="725.87" r="1.3" fill="#1e1e1e"/>
<circle cx="130.95" cy="725.87" r="1.3" fill="#1e1e1e"/>
<rect x="133.55" y="779.57" width="11.80" height="36.03" fill="#2d4b83" />
<line x1="139.45" y1="779.57" x2="139.45" y2="775.06" stroke="#111" stroke-width="1.5"/>
<line x1="136.25" y1="775.06" x2="142.65" y2="775.06" stroke="#111" stroke-width="1.6"/>
<circle cx="136.15" cy="770.16" r="1.3" fill="#1e1e1e"/>
<circle cx="139.45" cy="770.16" r="1.3" fill="#1e1e1e"/>
<circle cx="142.75" cy="770.16" r="1.3" fill="#1e1e1e"/>
<line x1="133.55" y1="815.60" x2="133.55" y2="819.00" stroke="#111" stroke-width="1.4"/>
<text x="130.96" y="831.60" font-size="9.4" fill="#1a1a1a" stroke="#1a1a1a" stroke-width="0.25" >3</text>
<rect x="149.90" y="735.28" width="11.80" height="80.32" fill="#a9052d" />
<line x1="155.80" y1="735.28" x2="155.80" y2="721.02" stroke="#111" stroke-width="1.5"/>
<line x1="152.60" y1="721.02" x2="159.00" y2="721.02" stroke="#111" stroke-width="1.6"/>
<circle cx="152.50" cy="716.12" r="1.3" fill="#1e1e1e"/>
<circle cx="155.80" cy="716.12" r="1.3" fill="#1e1e1e"/>
<circle cx="159.10" cy="716.12" r="1.3" fill="#1e1e1e"/>
<rect x="161.70" y="775.81" width="11.80" height="39.79" fill="#2d4b83" />
<line x1="167.60" y1="775.81" x2="167.60" y2="772.06" stroke="#111" stroke-width="1.5"/>
<line x1="164.40" y1="772.06" x2="170.80" y2="772.06" stroke="#111" stroke-width="1.6"/>
<circle cx="164.30" cy="767.16" r="1.3" fill="#1e1e1e"/>
<circle cx="167.60" cy="767.16" r="1.3" fill="#1e1e1e"/>
<circle cx="170.90" cy="767.16" r="1.3" fill="#1e1e1e"/>
<line x1="161.70" y1="815.60" x2="161.70" y2="819.00" stroke="#111" stroke-width="1.4"/>
<text x="156.30" y="831.60" font-size="9.4" fill="#1a1a1a" stroke="#1a1a1a" stroke-width="0.25" >10</text>
<rect x="178.05" y="731.53" width="11.80" height="84.07" fill="#a9052d" />
<line x1="183.95" y1="731.53" x2="183.95" y2="718.76" stroke="#111" stroke-width="1.5"/>
<line x1="180.75" y1="718.76" x2="187.15" y2="718.76" stroke="#111" stroke-width="1.6"/>
<circle cx="180.65" cy="713.86" r="1.3" fill="#1e1e1e"/>
<circle cx="183.95" cy="713.86" r="1.3" fill="#1e1e1e"/>
<circle cx="187.25" cy="713.86" r="1.3" fill="#1e1e1e"/>
<rect x="189.85" y="774.31" width="11.80" height="41.29" fill="#2d4b83" />
<line x1="195.75" y1="774.31" x2="195.75" y2="769.06" stroke="#111" stroke-width="1.5"/>
<line x1="192.55" y1="769.06" x2="198.95" y2="769.06" stroke="#111" stroke-width="1.6"/>
<circle cx="192.45" cy="764.16" r="1.3" fill="#1e1e1e"/>
<circle cx="195.75" cy="764.16" r="1.3" fill="#1e1e1e"/>
<circle cx="199.05" cy="764.16" r="1.3" fill="#1e1e1e"/>
<line x1="189.85" y1="815.60" x2="189.85" y2="819.00" stroke="#111" stroke-width="1.4"/>
<text x="184.63" y="831.60" font-size="9.4" fill="#1a1a1a" stroke="#1a1a1a" stroke-width="0.25" >30</text>
<line x1="87.90" y1="815.60" x2="203.50" y2="815.60" stroke="#111" stroke-width="1.6"/>
<text x="27.31" y="831.80" font-size="9.4" fill="#1a1a1a" stroke="#1a1a1a" stroke-width="0.25" >CRP (μg/mL):</text>
<g transform="translate(65.50,757.70) rotate(-90)"><text x="0" y="0" font-size="10.3" text-anchor="middle" fill="#1a1a1a" textLength="43" lengthAdjust="spacingAndGlyphs"><tspan font-weight="bold">MFI</tspan> <tspan stroke="#1a1a1a" stroke-width="0.45">(x1000)</tspan></text></g>
<line x1="339.75" y1="700.00" x2="339.75" y2="816.80" stroke="#111" stroke-width="1.6"/>
<line x1="336.15" y1="816.00" x2="339.75" y2="816.00" stroke="#111" stroke-width="1.4"/>
<text x="326.79" y="819.18" font-size="9.4" fill="#1a1a1a" stroke="#1a1a1a" stroke-width="0.25" >0</text>
<line x1="336.15" y1="778.33" x2="339.75" y2="778.33" stroke="#111" stroke-width="1.4"/>
<text x="326.82" y="781.47" font-size="9.4" fill="#1a1a1a" stroke="#1a1a1a" stroke-width="0.25" >5</text>
<line x1="336.15" y1="740.67" x2="339.75" y2="740.67" stroke="#111" stroke-width="1.4"/>
<text x="321.56" y="743.85" font-size="9.4" fill="#1a1a1a" stroke="#1a1a1a" stroke-width="0.25" >10</text>
<line x1="336.15" y1="703.00" x2="339.75" y2="703.00" stroke="#111" stroke-width="1.4"/>
<text x="321.59" y="706.13" font-size="9.4" fill="#1a1a1a" stroke="#1a1a1a" stroke-width="0.25" >15</text>
<rect x="341.90" y="809.97" width="11.80" height="6.03" fill="#a9052d" />
<line x1="347.80" y1="809.97" x2="347.80" y2="808.09" stroke="#111" stroke-width="1.5"/>
<line x1="344.60" y1="808.09" x2="351.00" y2="808.09" stroke="#111" stroke-width="1.6"/>
<rect x="353.70" y="812.99" width="11.80" height="3.01" fill="#2d4b83" />
<line x1="359.60" y1="812.99" x2="359.60" y2="812.61" stroke="#111" stroke-width="1.5"/>
<line x1="356.40" y1="812.61" x2="362.80" y2="812.61" stroke="#111" stroke-width="1.6"/>
<line x1="353.70" y1="816.00" x2="353.70" y2="819.40" stroke="#111" stroke-width="1.4"/>
<text x="351.09" y="831.70" font-size="9.4" fill="#1a1a1a" stroke="#1a1a1a" stroke-width="0.25" >0</text>
<rect x="370.20" y="809.97" width="11.80" height="6.03" fill="#a9052d" />
<line x1="376.10" y1="809.97" x2="376.10" y2="807.71" stroke="#111" stroke-width="1.5"/>
<line x1="372.90" y1="807.71" x2="379.30" y2="807.71" stroke="#111" stroke-width="1.6"/>
<rect x="382.30" y="813.14" width="11.20" height="2.86" fill="#1c1f2e" rx="0.8"/>
<line x1="382.00" y1="816.00" x2="382.00" y2="819.40" stroke="#111" stroke-width="1.4"/>
<text x="375.48" y="831.70" font-size="9.4" fill="#1a1a1a" stroke="#1a1a1a" stroke-width="0.25" >0.5</text>
<rect x="398.50" y="808.47" width="11.80" height="7.53" fill="#a9052d" />
<line x1="404.40" y1="808.47" x2="404.40" y2="806.21" stroke="#111" stroke-width="1.5"/>
<line x1="401.20" y1="806.21" x2="407.60" y2="806.21" stroke="#111" stroke-width="1.6"/>
<rect x="410.30" y="812.23" width="11.80" height="3.77" fill="#2d4b83" />
<line x1="416.20" y1="812.23" x2="416.20" y2="811.86" stroke="#111" stroke-width="1.5"/>
<line x1="413.00" y1="811.86" x2="419.40" y2="811.86" stroke="#111" stroke-width="1.6"/>
<line x1="410.30" y1="816.00" x2="410.30" y2="819.40" stroke="#111" stroke-width="1.4"/>
<text x="403.61" y="831.70" font-size="9.4" fill="#1a1a1a" stroke="#1a1a1a" stroke-width="0.25" >1.5</text>
<rect x="426.80" y="788.88" width="11.80" height="27.12" fill="#a9052d" />
<line x1="432.70" y1="788.88" x2="432.70" y2="786.24" stroke="#111" stroke-width="1.5"/>
<line x1="429.50" y1="786.24" x2="435.90" y2="786.24" stroke="#111" stroke-width="1.6"/>
<circle cx="429.40" cy="781.34" r="1.3" fill="#1e1e1e"/>
<circle cx="432.70" cy="781.34" r="1.3" fill="#1e1e1e"/>
<circle cx="436.00" cy="781.34" r="1.3" fill="#1e1e1e"/>
<rect x="438.60" y="799.43" width="11.80" height="16.57" fill="#2d4b83" />
<line x1="444.50" y1="799.43" x2="444.50" y2="797.17" stroke="#111" stroke-width="1.5"/>
<line x1="441.30" y1="797.17" x2="447.70" y2="797.17" stroke="#111" stroke-width="1.6"/>
<circle cx="441.20" cy="792.27" r="1.3" fill="#1e1e1e"/>
<circle cx="444.50" cy="792.27" r="1.3" fill="#1e1e1e"/>
<circle cx="447.80" cy="792.27" r="1.3" fill="#1e1e1e"/>
<line x1="438.60" y1="816.00" x2="438.60" y2="819.40" stroke="#111" stroke-width="1.4"/>
<text x="436.00" y="831.70" font-size="9.4" fill="#1a1a1a" stroke="#1a1a1a" stroke-width="0.25" >5</text>
<rect x="455.10" y="759.50" width="11.80" height="56.50" fill="#a9052d" />
<line x1="461.00" y1="759.50" x2="461.00" y2="750.46" stroke="#111" stroke-width="1.5"/>
<line x1="457.80" y1="750.46" x2="464.20" y2="750.46" stroke="#111" stroke-width="1.6"/>
<circle cx="457.70" cy="745.56" r="1.3" fill="#1e1e1e"/>
<circle cx="461.00" cy="745.56" r="1.3" fill="#1e1e1e"/>
<circle cx="464.30" cy="745.56" r="1.3" fill="#1e1e1e"/>
<rect x="466.90" y="785.11" width="11.80" height="30.89" fill="#2d4b83" />
<line x1="472.80" y1="785.11" x2="472.80" y2="782.10" stroke="#111" stroke-width="1.5"/>
<line x1="469.60" y1="782.10" x2="476.00" y2="782.10" stroke="#111" stroke-width="1.6"/>
<circle cx="469.50" cy="777.20" r="1.3" fill="#1e1e1e"/>
<circle cx="472.80" cy="777.20" r="1.3" fill="#1e1e1e"/>
<circle cx="476.10" cy="777.20" r="1.3" fill="#1e1e1e"/>
<line x1="466.90" y1="816.00" x2="466.90" y2="819.40" stroke="#111" stroke-width="1.4"/>
<text x="461.50" y="831.70" font-size="9.4" fill="#1a1a1a" stroke="#1a1a1a" stroke-width="0.25" >10</text>
<rect x="483.40" y="738.41" width="11.80" height="77.59" fill="#a9052d" />
<line x1="489.30" y1="738.41" x2="489.30" y2="729.37" stroke="#111" stroke-width="1.5"/>
<line x1="486.10" y1="729.37" x2="492.50" y2="729.37" stroke="#111" stroke-width="1.6"/>
<circle cx="486.00" cy="724.47" r="1.3" fill="#1e1e1e"/>
<circle cx="489.30" cy="724.47" r="1.3" fill="#1e1e1e"/>
<circle cx="492.60" cy="724.47" r="1.3" fill="#1e1e1e"/>
<rect x="495.20" y="774.57" width="11.80" height="41.43" fill="#2d4b83" />
<line x1="501.10" y1="774.57" x2="501.10" y2="770.80" stroke="#111" stroke-width="1.5"/>
<line x1="497.90" y1="770.80" x2="504.30" y2="770.80" stroke="#111" stroke-width="1.6"/>
<circle cx="497.80" cy="765.90" r="1.3" fill="#1e1e1e"/>
<circle cx="501.10" cy="765.90" r="1.3" fill="#1e1e1e"/>
<circle cx="504.40" cy="765.90" r="1.3" fill="#1e1e1e"/>
<line x1="495.20" y1="816.00" x2="495.20" y2="819.40" stroke="#111" stroke-width="1.4"/>
<text x="489.92" y="831.70" font-size="9.4" fill="#1a1a1a" stroke="#1a1a1a" stroke-width="0.25" >20</text>
<line x1="336.15" y1="816.00" x2="510.50" y2="816.00" stroke="#111" stroke-width="1.6"/>
<text x="312.96" y="833.70" font-size="9.4" fill="#1a1a1a" stroke="#1a1a1a" stroke-width="0.25" textLength="19.77" lengthAdjust="spacingAndGlyphs" >time:</text>
<text x="294.53" y="848.20" font-size="9.4" fill="#1a1a1a" stroke="#1a1a1a" stroke-width="0.25" textLength="38.13" lengthAdjust="spacingAndGlyphs" >(minutes)</text>
<g transform="translate(314.80,757.70) rotate(-90)"><text x="0" y="0" font-size="10.3" text-anchor="middle" fill="#1a1a1a" textLength="43" lengthAdjust="spacingAndGlyphs"><tspan font-weight="bold">MFI</tspan> <tspan stroke="#1a1a1a" stroke-width="0.45">(x1000)</tspan></text></g>
<line x1="380.10" y1="31.00" x2="380.10" y2="148.10" stroke="#111" stroke-width="1.6"/>
<line x1="376.30" y1="147.30" x2="380.10" y2="147.30" stroke="#111" stroke-width="1.4"/>
<text x="367.96" y="150.23" font-size="8.4" fill="#1a1a1a" stroke="#1a1a1a" stroke-width="0.25" >0</text>
<line x1="376.30" y1="119.20" x2="380.10" y2="119.20" stroke="#111" stroke-width="1.4"/>
<text x="368.05" y="122.13" font-size="8.4" fill="#1a1a1a" stroke="#1a1a1a" stroke-width="0.25" >2</text>
<line x1="376.30" y1="91.10" x2="380.10" y2="91.10" stroke="#111" stroke-width="1.4"/>
<text x="367.87" y="93.99" font-size="8.4" fill="#1a1a1a" stroke="#1a1a1a" stroke-width="0.25" >4</text>
<line x1="376.30" y1="63.00" x2="380.10" y2="63.00" stroke="#111" stroke-width="1.4"/>
<text x="368.00" y="65.93" font-size="8.4" fill="#1a1a1a" stroke="#1a1a1a" stroke-width="0.25" >6</text>
<line x1="376.30" y1="34.90" x2="380.10" y2="34.90" stroke="#111" stroke-width="1.4"/>
<text x="367.99" y="37.83" font-size="8.4" fill="#1a1a1a" stroke="#1a1a1a" stroke-width="0.25" >8</text>
<rect x="383.70" y="103.04" width="15.70" height="44.26" fill="#a9052d" />
<line x1="391.55" y1="103.04" x2="391.55" y2="96.72" stroke="#111" stroke-width="1.5"/>
<line x1="387.65" y1="96.72" x2="395.45" y2="96.72" stroke="#111" stroke-width="1.6"/>
<rect x="399.40" y="98.12" width="15.70" height="49.18" fill="#2d4b83" />
<line x1="407.25" y1="98.12" x2="407.25" y2="90.68" stroke="#111" stroke-width="1.5"/>
<line x1="403.35" y1="90.68" x2="411.15" y2="90.68" stroke="#111" stroke-width="1.6"/>
<line x1="399.40" y1="147.30" x2="399.40" y2="150.90" stroke="#111" stroke-width="1.4"/>
<rect x="421.30" y="66.09" width="15.70" height="81.21" fill="#a9052d" />
<line x1="429.15" y1="66.09" x2="429.15" y2="53.31" stroke="#111" stroke-width="1.5"/>
<line x1="425.25" y1="53.31" x2="433.05" y2="53.31" stroke="#111" stroke-width="1.6"/>
<circle cx="425.85" cy="47.71" r="1.3" fill="#1e1e1e"/>
<circle cx="429.15" cy="47.71" r="1.3" fill="#1e1e1e"/>
<circle cx="432.45" cy="47.71" r="1.3" fill="#1e1e1e"/>
<rect x="437.00" y="95.60" width="15.70" height="51.70" fill="#2d4b83" />
<line x1="444.85" y1="95.60" x2="444.85" y2="89.70" stroke="#111" stroke-width="1.5"/>
<line x1="440.95" y1="89.70" x2="448.75" y2="89.70" stroke="#111" stroke-width="1.6"/>
<line x1="437.00" y1="147.30" x2="437.00" y2="150.90" stroke="#111" stroke-width="1.4"/>
<line x1="376.30" y1="147.30" x2="456.90" y2="147.30" stroke="#111" stroke-width="1.6"/>
<text x="388.17" y="164.20" font-size="8.9" fill="#1a1a1a" stroke="#1a1a1a" stroke-width="0.25" >basal</text>
<text x="419.92" y="164.20" font-size="8.9" fill="#1a1a1a" stroke="#1a1a1a" stroke-width="0.25" >collagen</text>
<g transform="translate(360.0,89.5) rotate(-90)"><text x="0" y="0" font-size="10.2" text-anchor="middle" fill="#1a1a1a" textLength="43" lengthAdjust="spacingAndGlyphs"><tspan font-weight="bold">MFI</tspan> <tspan stroke="#1a1a1a" stroke-width="0.45">(x1000)</tspan></text></g>
<rect x="454.70" y="19.40" width="15.20" height="7.00" fill="#a9052d" />
<rect x="454.70" y="35.30" width="15.20" height="7.00" fill="#2d4b83" />
<text x="473.75" y="25.90" font-size="8.6" fill="#1a1a1a" stroke="#1a1a1a" stroke-width="0.25" textLength="18.29" lengthAdjust="spacingAndGlyphs" >TLT-1</text>
<text x="473.19" y="41.40" font-size="8.6" fill="#1a1a1a" stroke="#1a1a1a" stroke-width="0.25" textLength="37.97" lengthAdjust="spacingAndGlyphs" >P-selectin</text>
<text x="8.69" y="22.80" font-size="16.6" font-weight="bold" fill="#000" stroke="#000" stroke-width="0.35" >A</text>
<text x="319.49" y="22.80" font-size="16.6" font-weight="bold" fill="#000" stroke="#000" stroke-width="0.35" >B</text>
<text x="8.74" y="185.30" font-size="16.0" font-weight="bold" fill="#000" stroke="#000" stroke-width="0.35" >C</text>
<text x="8.89" y="527.00" font-size="16.6" font-weight="bold" fill="#000" stroke="#000" stroke-width="0.35" >D</text>
<text x="32.35" y="184.60" font-size="12.2" font-weight="bold" fill="#000" stroke="#000" stroke-width="0.6" >i</text>
<text x="33.05" y="526.70" font-size="12.2" font-weight="bold" fill="#000" stroke="#000" stroke-width="0.6" >i</text>
<text x="278.45" y="184.60" font-size="12.2" font-weight="bold" fill="#000" stroke="#000" stroke-width="0.6" letter-spacing="0.9">ii</text>
<text x="278.45" y="526.70" font-size="12.2" font-weight="bold" fill="#000" stroke="#000" stroke-width="0.6" letter-spacing="0.9">ii</text>
<rect x="1" y="1" width="518" height="860" fill="none" stroke="#000" stroke-width="2"/>
</svg>
</body></html>
